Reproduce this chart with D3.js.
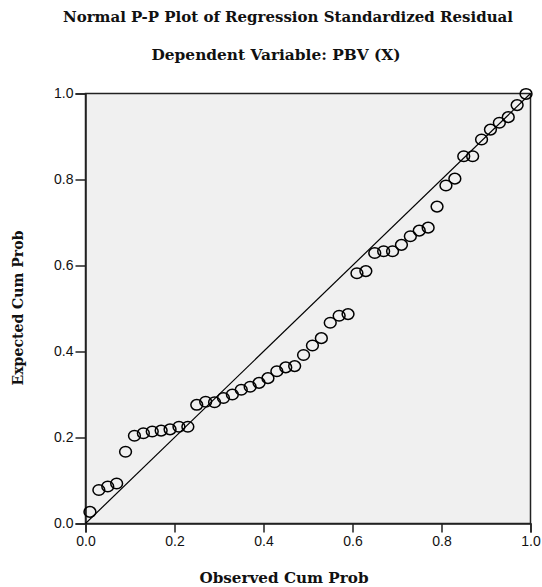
<!DOCTYPE html>
<html>
<head>
<meta charset="utf-8">
<script src="https://cdn.jsdelivr.net/npm/d3@7"></script>
<style>
  html, body { margin: 0; padding: 0; background: #ffffff; }
  svg { display: block; }
</style>
</head>
<body>
<svg id="chart" width="542" height="587"></svg>
<script>
// ---- data ----
const title1 = "Normal P-P Plot of Regression Standardized Residual";
const title2 = "Dependent Variable: PBV (X)";
const xTitle = "Observed Cum Prob";
const yTitle = "Expected Cum Prob";
const tickValues = [0, 0.2, 0.4, 0.6, 0.8, 1.0];

const observed = [0.01,0.03,0.05,0.07,0.09,0.11,0.13,0.15,0.17,0.19,
                  0.21,0.23,0.25,0.27,0.29,0.31,0.33,0.35,0.37,0.39,
                  0.41,0.43,0.45,0.47,0.49,0.51,0.53,0.55,0.57,0.59,
                  0.61,0.63,0.65,0.67,0.69,0.71,0.73,0.75,0.77,0.79,
                  0.81,0.83,0.85,0.87,0.89,0.91,0.93,0.95,0.97,0.99];
const expected = [0.027,0.078,0.086,0.093,0.167,0.204,0.210,0.214,0.216,0.219,
                  0.225,0.225,0.276,0.283,0.282,0.292,0.300,0.311,0.318,0.327,
                  0.338,0.354,0.363,0.366,0.392,0.414,0.431,0.467,0.483,0.487,
                  0.582,0.587,0.629,0.633,0.633,0.648,0.668,0.681,0.688,0.737,
                  0.786,0.802,0.854,0.854,0.893,0.916,0.932,0.945,0.973,0.999];

// ---- layout ----
const svg = d3.select("#chart");
const pLeft = 85.5, pRight = 530.5, pTop = 93.5, pBottom = 523.5;
const x = d3.scaleLinear().domain([0, 1]).range([pLeft, pRight]);
const y = d3.scaleLinear().domain([0, 1]).range([pBottom, pTop]);

// plot background
svg.append("rect")
  .attr("x", x(0)).attr("y", y(1))
  .attr("width", x(1) - x(0)).attr("height", y(0) - y(1))
  .attr("fill", "#f0f0f0")
  .attr("stroke", "#222").attr("stroke-width", 1.5);

// axes
const fmt = d3.format(".1f");
const xAxis = svg.append("g")
  .attr("transform", `translate(0,${y(0)})`)
  .call(d3.axisBottom(x).tickValues(tickValues).tickFormat(fmt).tickSize(9).tickPadding(4));
const yAxis = svg.append("g")
  .attr("transform", `translate(${x(0)},0)`)
  .call(d3.axisLeft(y).tickValues(tickValues).tickFormat(fmt).tickSize(10).tickPadding(2));
[xAxis, yAxis].forEach(g => {
  g.select(".domain").attr("stroke", "#222").attr("stroke-width", 1.5);
  g.selectAll(".tick line").attr("stroke", "#222").attr("stroke-width", 1.5);
  g.selectAll(".tick text")
    .attr("font-family", "'Liberation Sans', Arial, sans-serif")
    .attr("font-size", 14).attr("fill", "#111");
});

// reference diagonal
svg.append("line")
  .attr("x1", x(0)).attr("y1", y(0))
  .attr("x2", x(1)).attr("y2", y(1))
  .attr("stroke", "#000").attr("stroke-width", 1.2);

// points
const pts = observed.map((o, i) => ({o, e: expected[i]}));
svg.append("g").selectAll("ellipse")
  .data(pts).enter().append("ellipse")
  .attr("cx", d => x(d.o)).attr("cy", d => y(d.e))
  .attr("rx", 5.9).attr("ry", 5.3)
  .attr("fill", "none").attr("stroke", "#000").attr("stroke-width", 1.5);

// titles
const serif = "'DejaVu Serif', 'Liberation Serif', serif";
function title(txt, tx, ty, len, rot) {
  const t = svg.append("text")
    .attr("text-anchor", "middle").attr("font-family", serif)
    .attr("font-weight", "bold").attr("font-size", 14)
    .attr("fill", "#111")
    .attr("textLength", len).attr("lengthAdjust", "spacingAndGlyphs")
    .text(txt);
  if (rot) t.attr("transform", `translate(${tx},${ty}) rotate(-90)`);
  else t.attr("x", tx).attr("y", ty);
}
title(title1, 288, 22, 450);
title(title2, 276, 60, 249);
title(xTitle, 284, 583, 169);
title(yTitle, 23, 308, 155, true);
</script>
</body>
</html>
